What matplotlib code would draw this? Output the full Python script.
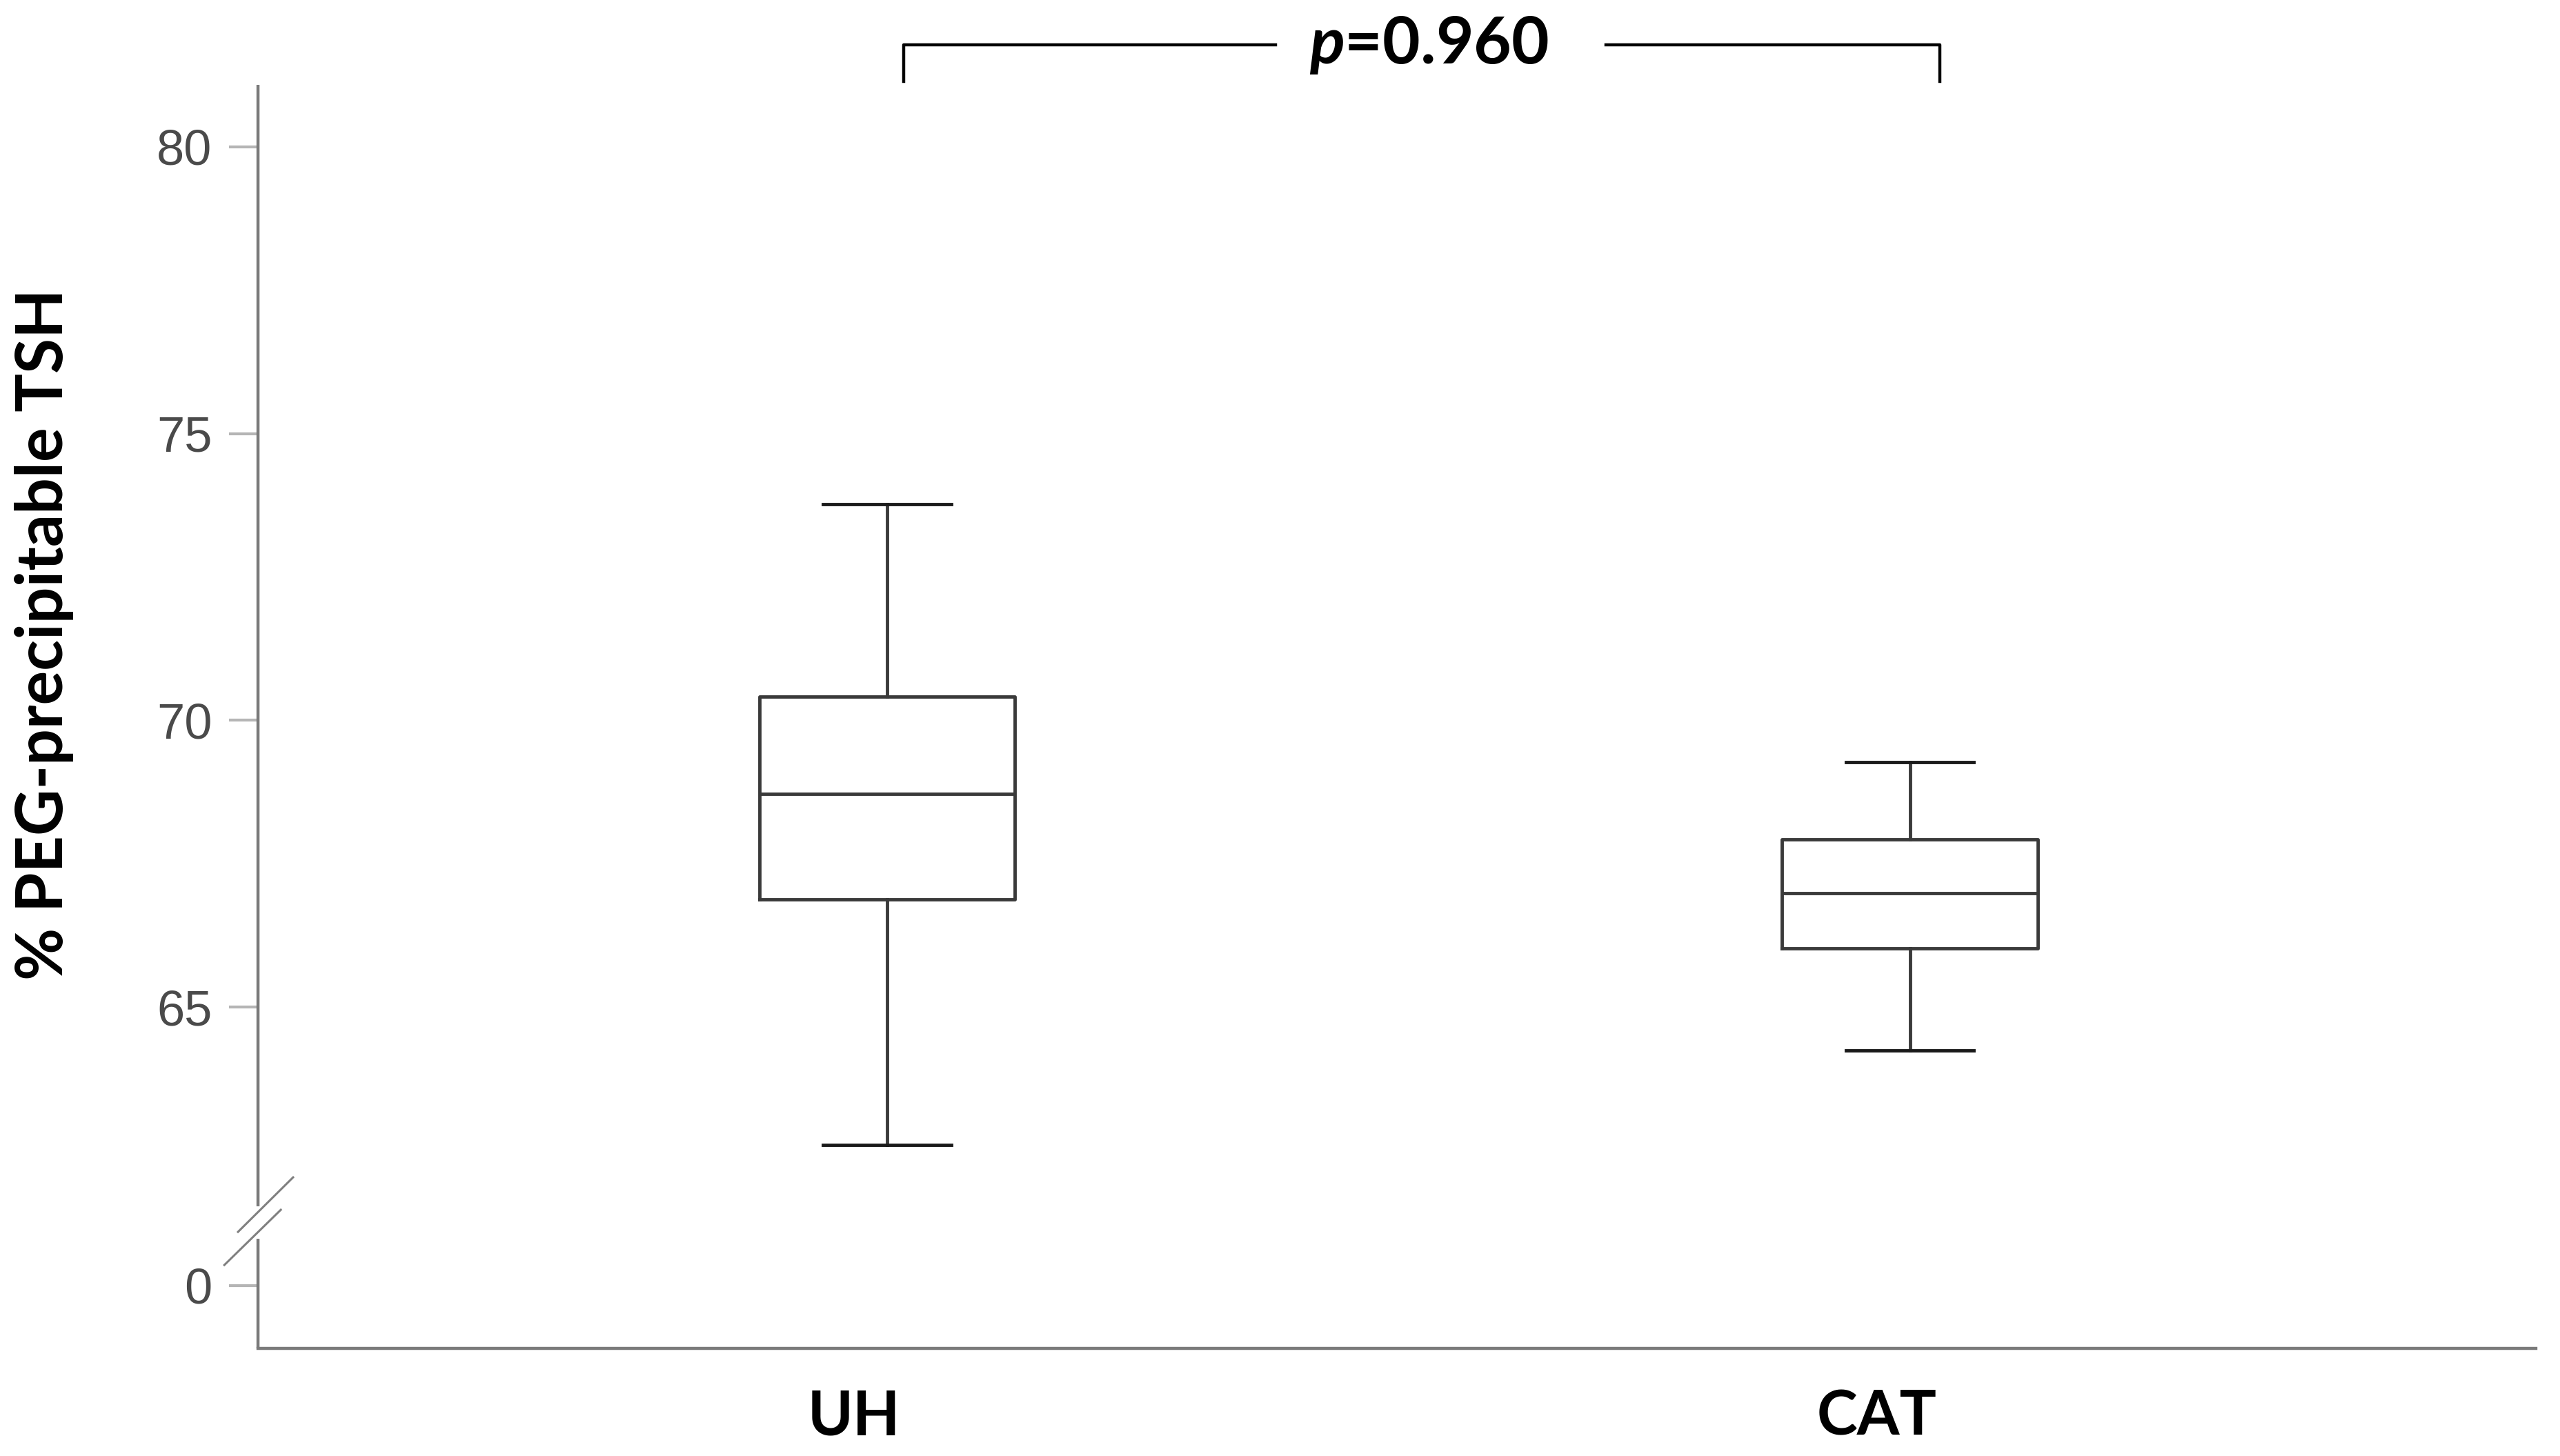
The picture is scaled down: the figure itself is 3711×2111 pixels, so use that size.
import matplotlib
matplotlib.use("Agg")
import matplotlib.pyplot as plt
import matplotlib.transforms as mtransforms
from matplotlib.lines import Line2D

# ---- data ----
categories = ["UH", "CAT"]
whisker_low = [62.60, 64.25]
q1 = [66.88, 66.02]
median = [68.72, 66.99]
q3 = [70.42, 67.93]
whisker_high = [73.77, 69.27]
ytick_values = [0, 65, 70, 75, 80]
p_label = "0.960"
ylabel = "% PEG-precipitable TSH"

# broken axis: value 0 is drawn at this position on the continuous scale
ZERO_POS = 60.15

plt.rcParams["mathtext.fontset"] = "custom"
plt.rcParams["mathtext.bfit"] = "Lato:italic:bold"
plt.rcParams["mathtext.it"] = "Lato:italic"
plt.rcParams["mathtext.rm"] = "Lato"

fig = plt.figure(figsize=(37.11, 21.11), dpi=100)
ax = fig.add_axes([0.1008, 0.0739, 0.8898, 0.8678])

positions = [1, 2]
stats = []
for i, c in enumerate(categories):
    stats.append(dict(label=c, med=median[i], q1=q1[i], q3=q3[i],
                      whislo=whisker_low[i], whishi=whisker_high[i], fliers=[]))

lc = "#3a3a3a"
ax.bxp(stats, positions=positions, widths=0.25, capwidths=0.125,
       showfliers=False,
       boxprops=dict(color=lc, linewidth=3.5),
       medianprops=dict(color=lc, linewidth=3.5),
       whiskerprops=dict(color=lc, linewidth=3.5),
       capprops=dict(color="#1a1a1a", linewidth=3.5))

ax.set_xlim(0.385, 2.612)
ax.set_ylim(59.05, 81.08)

# y ticks
ytick_pos = [ZERO_POS if v == 0 else v for v in ytick_values]
ax.set_yticks(ytick_pos)
ax.set_yticklabels([str(v) for v in ytick_values], fontfamily="Liberation Sans",
                   fontsize=52, color="#4a4a4a")
ax.tick_params(axis="y", length=30, width=3, color="#b5b5b5", pad=18)

# x ticks
ax.set_xticks(positions)
ax.set_xticklabels(categories, fontfamily="Lato", fontweight="bold", fontsize=64,
                   color="black")
ax.tick_params(axis="x", length=0, pad=42)
offset = mtransforms.ScaledTranslation(-0.48, 0, fig.dpi_scale_trans)
for lab in ax.get_xticklabels():
    lab.set_transform(lab.get_transform() + offset)

# spines
for s in ["top", "right", "left"]:
    ax.spines[s].set_visible(False)
ax.spines["bottom"].set_color("#7a7a7a")
ax.spines["bottom"].set_linewidth(3.2)

# left spine with break
sc = "#7a7a7a"
gap_lo, gap_hi = 0.0868, 0.1124
ax.add_line(Line2D([0, 0], [0, gap_lo], transform=ax.transAxes, color=sc,
                   linewidth=3.2, clip_on=False, solid_capstyle="butt"))
ax.add_line(Line2D([0, 0], [gap_hi, 1], transform=ax.transAxes, color=sc,
                   linewidth=3.2, clip_on=False, solid_capstyle="butt"))
ax.add_line(Line2D([-0.0088, 0.0154], [0.0922, 0.1354], transform=ax.transAxes,
                   color="#808080", linewidth=2.2, clip_on=False))
ax.add_line(Line2D([-0.0148, 0.0100], [0.0660, 0.1097], transform=ax.transAxes,
                   color="#808080", linewidth=2.2, clip_on=False))

ax.set_ylabel(ylabel, fontfamily="Lato", fontweight="bold", fontsize=67,
              color="black")
ax.yaxis.set_label_coords(-0.0809, 0.565)

# significance bracket
btrans = mtransforms.blended_transform_factory(ax.transData, fig.transFigure)
xl, xr = positions[0] + 0.016, positions[1] + 0.029
yt, yb = 0.969, 0.944
xm = 1.530
ax.add_line(Line2D([xl, xl, xm - 0.150], [yb, yt, yt], transform=btrans,
                   color="black", linewidth=3.2, clip_on=False))
ax.add_line(Line2D([xm + 0.173, xr, xr], [yt, yt, yb], transform=btrans,
                   color="black", linewidth=3.2, clip_on=False))
ax.text(xm, yt, r"$\mathbfit{p}$=" + p_label, transform=btrans, ha="center",
        va="center", fontfamily="Lato", fontweight="bold", fontsize=68,
        color="black")

fig.savefig("out.png", dpi=100, facecolor="white")
